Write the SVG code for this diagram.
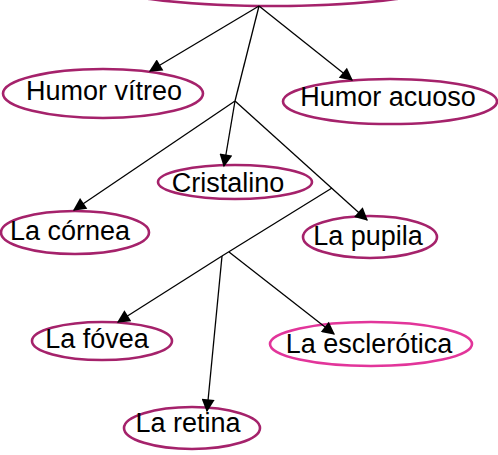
<svg xmlns="http://www.w3.org/2000/svg" width="498" height="455" viewBox="0 0 498 455">
<defs>
<marker id="arr" viewBox="0 0 10 10" refX="9" refY="5" markerWidth="14" markerHeight="13" markerUnits="userSpaceOnUse" orient="auto"><path d="M0,0 L10,5 L0,10 z" fill="#000"/></marker>
<style>
.n{fill:#fff;stroke:#a5226b;stroke-width:2.6}
.p{fill:#fff;stroke:#e2359a;stroke-width:2.6}
.t{font-family:"Liberation Sans",Arial,sans-serif;font-size:27px;fill:#000;text-anchor:middle}
.c{stroke:#000;stroke-width:1.3;fill:none}
</style>
</defs>
<rect width="498" height="455" fill="#fff"/>
<g id="node-top"><ellipse class="n" cx="273" cy="-18" rx="174" ry="24"/></g>
<g id="node-humor-vitreo"><ellipse class="n" cx="103" cy="93.5" rx="100" ry="24.5"/><text class="t" x="104" y="100">Humor vítreo</text></g>
<g id="node-humor-acuoso"><ellipse class="n" cx="390" cy="101.5" rx="107" ry="22.5"/><text class="t" x="388" y="106">Humor acuoso</text></g>
<g id="node-cristalino"><ellipse class="n" cx="235" cy="182" rx="77" ry="17"/><text class="t" x="228" y="192">Cristalino</text></g>
<g id="node-cornea"><ellipse class="n" cx="75" cy="232.5" rx="74" ry="21.5"/><text class="t" x="70" y="240">La córnea</text></g>
<g id="node-pupila"><ellipse class="n" cx="370" cy="237" rx="67" ry="21"/><text class="t" x="368" y="245">La pupila</text></g>
<g id="node-fovea"><ellipse class="n" cx="102" cy="341" rx="70" ry="19"/><text class="t" x="97" y="348">La fóvea</text></g>
<g id="node-esclerotica"><ellipse class="p" cx="371" cy="344" rx="101" ry="22"/><text class="t" x="369" y="353">La esclerótica</text></g>
<g id="node-retina"><ellipse class="n" cx="192" cy="428" rx="68" ry="21"/><text class="t" x="188" y="432">La retina</text></g>
<g id="connectors">
<path class="c" d="M259,6 L150,71" marker-end="url(#arr)"/>
<path class="c" d="M259,6 L352,80" marker-end="url(#arr)"/>
<path class="c" d="M259,6 L235,101"/>
<path class="c" d="M235,101 L224,166" marker-end="url(#arr)"/>
<path class="c" d="M235,101 L74,210" marker-end="url(#arr)"/>
<path class="c" d="M235,101 L367,220" marker-end="url(#arr)"/>
<path class="c" d="M332,188 L222,256"/>
<path class="c" d="M222,256 L118,322" marker-end="url(#arr)"/>
<path class="c" d="M222,256 L207,411" marker-end="url(#arr)"/>
<path class="c" d="M229,252 L334,334" marker-end="url(#arr)"/>
</g>
</svg>
